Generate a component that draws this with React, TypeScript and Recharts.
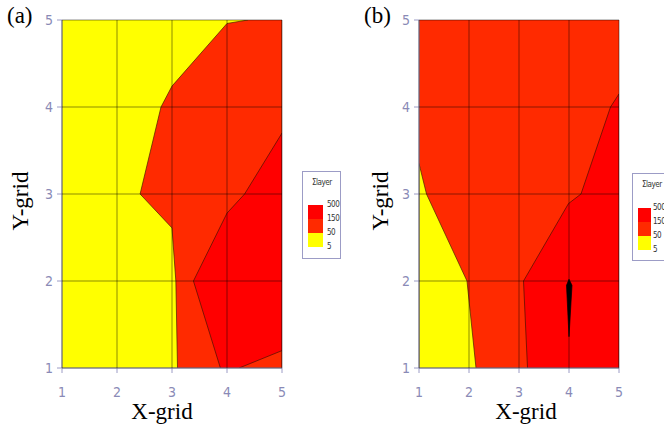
import React from 'react';
import { ComposedChart, Area, XAxis, YAxis, CartesianGrid } from 'recharts';

const gridTicks = [1, 2, 3, 4, 5];
const legendLabels = ['500', '150', '50', '5'];
const legendColors = ['#FF0000', '#FF2A00', '#FFFF00'];

const YELLOW = '#FFFF00';
const ORANGE = '#FF2A00';
const RED = '#FF0000';
const AXIS = '#9c9cc6';

// panel (a): each region is filled from its boundary (lo) to the right edge (hi)
const aBackground = [
  { y: 5, v: [1, 5] },
  { y: 1, v: [1, 5] },
];
const aOrange = [
  { y: 5, v: [4.38, 5] },
  { y: 4.96, v: [4.0, 5] },
  { y: 4.24, v: [3.0, 5] },
  { y: 4.0, v: [2.8, 5] },
  { y: 3.0, v: [2.42, 5] },
  { y: 2.61, v: [3.0, 5] },
  { y: 2.0, v: [3.07, 5] },
  { y: 1.0, v: [3.1, 5] },
];
const aRed = [
  { y: 3.7, v: [5, 5] },
  { y: 3.0, v: [4.32, 5] },
  { y: 2.78, v: [4.0, 5] },
  { y: 2.0, v: [3.39, 5] },
  { y: 1.0, v: [3.88, 5] },
];
const aOrangeCorner = [
  { y: 1.2, v: [5, 5] },
  { y: 1.0, v: [4.22, 5] },
];

// panel (b)
const bBackground = [
  { y: 5, v: [1, 5] },
  { y: 1, v: [1, 5] },
];
const bYellow = [
  { y: 3.35, v: [1, 1] },
  { y: 3.0, v: [1, 1.15] },
  { y: 2.0, v: [1, 1.96] },
  { y: 1.0, v: [1, 2.14] },
];
const bRed = [
  { y: 4.15, v: [5, 5] },
  { y: 4.0, v: [4.83, 5] },
  { y: 3.0, v: [4.24, 5] },
  { y: 2.89, v: [3.99, 5] },
  { y: 2.0, v: [3.09, 5] },
  { y: 1.0, v: [3.17, 5] },
];
const bPeak = [
  { y: 2.02, v: [4.0, 4.0] },
  { y: 1.95, v: [3.95, 4.06] },
  { y: 1.36, v: [4.0, 4.0] },
];

type Region = { data: { y: number; v: number[] }[]; fill: string; stroke: string };

const tickStyle = {
  fill: '#8a8ab6',
  fontSize: 14,
  fontFamily: '"Liberation Sans Narrow", "DejaVu Sans Condensed", sans-serif',
};

const Panel: React.FC<{ width: number; left: number; right: number; regions: Region[] }> = ({
  width,
  left,
  right,
  regions,
}) => (
  <ComposedChart
    layout="vertical"
    width={width}
    height={428}
    margin={{ top: 20, right, bottom: 30, left }}
  >
    <XAxis
      type="number"
      domain={[1, 5]}
      ticks={gridTicks}
      allowDataOverflow
      height={30}
      tick={tickStyle}
      tickSize={5}
      tickMargin={14}
      axisLine={{ stroke: AXIS }}
      tickLine={{ stroke: AXIS }}
    />
    <XAxis xAxisId="top" orientation="top" type="number" domain={[1, 5]} height={0} tick={false} tickLine={false} axisLine={{ stroke: AXIS }} />
    <YAxis
      type="number"
      dataKey="y"
      domain={[1, 5]}
      ticks={gridTicks}
      reversed
      allowDataOverflow
      width={30}
      tick={tickStyle}
      tickSize={5}
      tickMargin={4}
      axisLine={{ stroke: AXIS }}
      tickLine={{ stroke: AXIS }}
    />
    <YAxis yAxisId="right" orientation="right" type="number" dataKey="y" domain={[1, 5]} reversed width={0} tick={false} tickLine={false} axisLine={{ stroke: AXIS }} />
    {regions.map((r, i) => (
      <Area
        key={i}
        data={r.data}
        dataKey="v"
        type="linear"
        fill={r.fill}
        fillOpacity={1}
        stroke={r.stroke}
        strokeWidth={0.7}
        dot={false}
        activeDot={false}
        isAnimationActive={false}
      />
    ))}
    <CartesianGrid
      zIndex={600}
      fill="none"
      stroke="#000"
      strokeOpacity={0.45}
      horizontalValues={gridTicks}
      verticalValues={gridTicks}
    />
  </ComposedChart>
);

const Legend: React.FC<{ left: number; top: number; sw: number; labelX: number; swTop: number }> = ({ left, top, sw, labelX, swTop }) => (
  <div
    style={{
      position: 'absolute',
      left,
      top,
      width: 37,
      height: 86,
      border: `1px solid ${AXIS}`,
      fontFamily: '"Liberation Sans Narrow", "DejaVu Sans Condensed", sans-serif',
      fontSize: 8,
      color: '#333',
    }}
  >
    <div style={{ position: 'absolute', left: 9, top: 6, letterSpacing: -0.5 }}>Σlayer</div>
    {legendColors.map((c, i) => (
      <div key={c} style={{ position: 'absolute', left: 5, top: swTop + i * 14, width: sw, height: 14, background: c }} />
    ))}
    {legendLabels.map((l, i) => (
      <div key={l} style={{ position: 'absolute', left: labelX, top: swTop - 5 + i * 14, lineHeight: '10px', letterSpacing: -0.5 }}>
        {l}
      </div>
    ))}
  </div>
);

const serif = { fontFamily: '"Liberation Serif", "Times New Roman", serif', color: '#000' };

const App: React.FC = () => (
  <div style={{ position: 'absolute', left: 0, top: 0, width: 664, height: 428, background: '#fff', overflow: 'hidden' }}>
    <div style={{ position: 'absolute', left: 0, top: 0 }}>
      <Panel
        width={300}
        left={32}
        right={18}
        regions={[
          { data: aBackground, fill: YELLOW, stroke: 'none' },
          { data: aOrange, fill: ORANGE, stroke: '#4a2000' },
          { data: aRed, fill: RED, stroke: '#4a1000' },
          { data: aOrangeCorner, fill: ORANGE, stroke: '#4a1000' },
        ]}
      />
    </div>
    <div style={{ position: 'absolute', left: 360, top: 0 }}>
      <Panel
        width={304}
        left={29}
        right={45}
        regions={[
          { data: bBackground, fill: ORANGE, stroke: 'none' },
          { data: bYellow, fill: YELLOW, stroke: '#4a2000' },
          { data: bRed, fill: RED, stroke: '#4a1000' },
          { data: bPeak, fill: '#000', stroke: '#000' },
        ]}
      />
    </div>
    <div style={{ ...serif, position: 'absolute', left: 7, top: 3, fontSize: 23 }}>(a)</div>
    <div style={{ ...serif, position: 'absolute', left: 364, top: 3, fontSize: 23 }}>(b)</div>
    <div style={{ ...serif, position: 'absolute', left: 112, top: 399, width: 100, textAlign: 'center', fontSize: 23 }}>X-grid</div>
    <div style={{ ...serif, position: 'absolute', left: 476, top: 399, width: 100, textAlign: 'center', fontSize: 23 }}>X-grid</div>
    <div
      style={{ ...serif, position: 'absolute', left: -29, top: 188, width: 100, textAlign: 'center', fontSize: 23, transform: 'rotate(-90deg)' }}
    >
      Y-grid
    </div>
    <div
      style={{ ...serif, position: 'absolute', left: 331, top: 188, width: 100, textAlign: 'center', fontSize: 23, transform: 'rotate(-90deg)' }}
    >
      Y-grid
    </div>
    <Legend left={302} top={171} sw={15} labelX={24} swTop={33} />
    <Legend left={632} top={173} sw={13} labelX={20} swTop={34} />
  </div>
);

export default App;
